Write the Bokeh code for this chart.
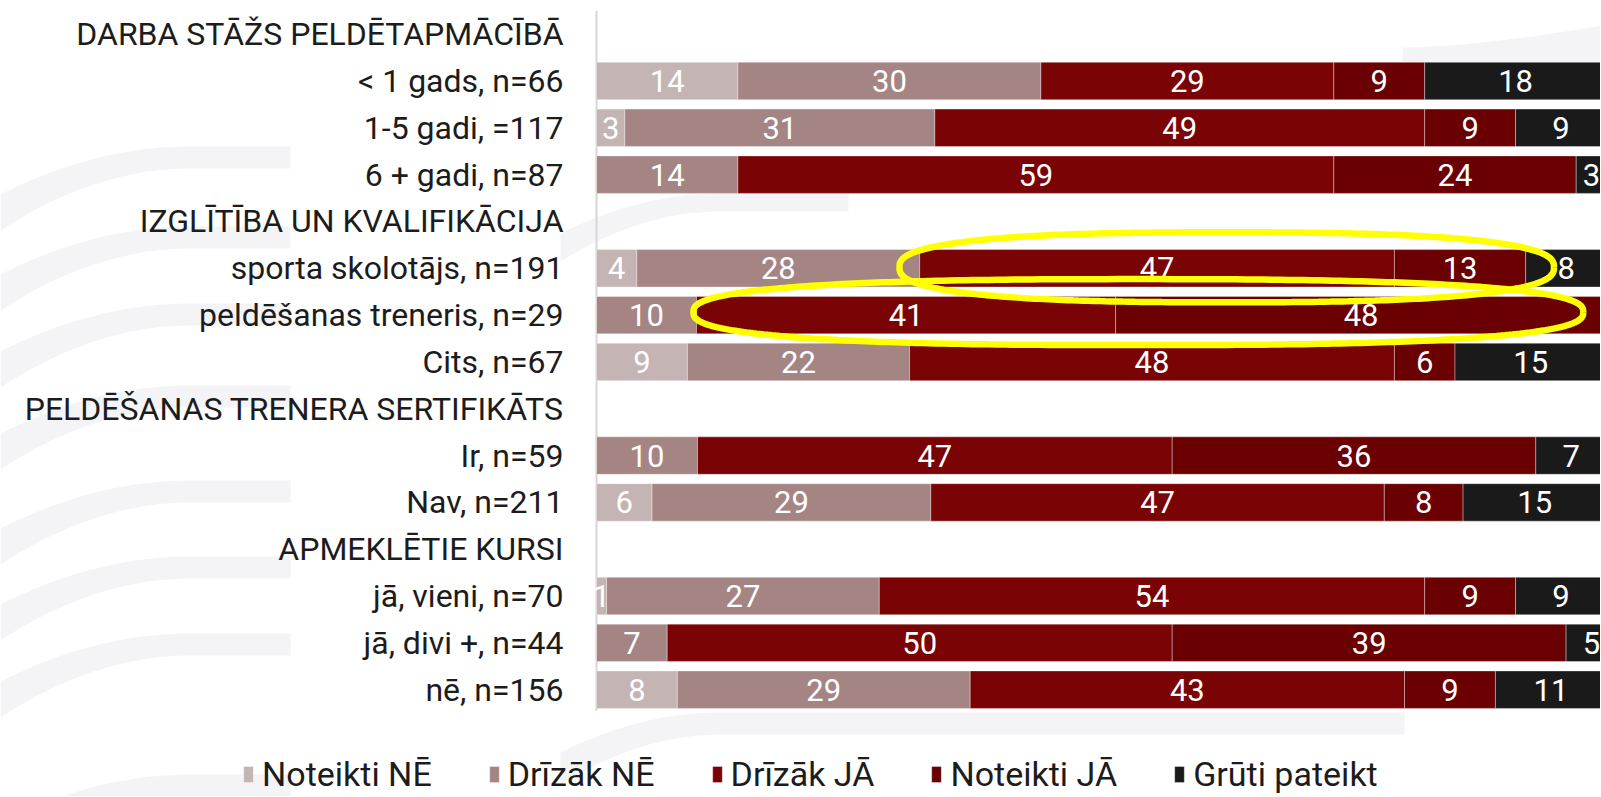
import numpy as np
from bokeh.plotting import figure
from bokeh.models import Range1d, ColumnDataSource, Legend, LegendItem
from bokeh.embed import file_html
from bokeh.resources import INLINE
from bokeh.core.properties import value

# ---------------- data ----------------
row_order = [
    "DARBA STĀŽS PELDĒTAPMĀCĪBĀ",
    "< 1 gads, n=66",
    "1-5 gadi, =117",
    "6 + gadi, n=87",
    "IZGLĪTĪBA UN KVALIFIKĀCIJA",
    "sporta skolotājs, n=191",
    "peldēšanas treneris, n=29",
    "Cits, n=67",
    "PELDĒŠANAS TRENERA SERTIFIKĀTS",
    "Ir, n=59",
    "Nav, n=211",
    "APMEKLĒTIE KURSI",
    "jā, vieni, n=70",
    "jā, divi +, n=44",
    "nē, n=156",
]
bar_rows = [
    "< 1 gads, n=66", "1-5 gadi, =117", "6 + gadi, n=87",
    "sporta skolotājs, n=191", "peldēšanas treneris, n=29", "Cits, n=67",
    "Ir, n=59", "Nav, n=211",
    "jā, vieni, n=70", "jā, divi +, n=44", "nē, n=156",
]
categories = ["Noteikti NĒ", "Drīzāk NĒ", "Drīzāk JĀ", "Noteikti JĀ", "Grūti pateikt"]

# bar lengths (% as drawn)
noteikti_ne   = [14, 2.8, 0, 4, 0, 9, 0, 5.5, 1, 0, 8]
drizak_ne     = [30, 30.7, 14, 28, 9.9, 22, 10, 27.6, 27, 7, 29]
drizak_ja     = [29, 48.5, 59, 47, 41.5, 48, 47, 44.9, 54, 50, 43]
noteikti_ja   = [9, 9, 24, 13, 48.6, 6, 36, 7.8, 9, 39, 9]
gruti_pateikt = [18, 9, 3, 8, 0, 15, 7, 14.2, 9, 5, 11]
series = [noteikti_ne, drizak_ne, drizak_ja, noteikti_ja, gruti_pateikt]

# value labels printed on the bars (0 = no label)
lbl_noteikti_ne   = [14, 3, 0, 4, 0, 9, 0, 6, 1, 0, 8]
lbl_drizak_ne     = [30, 31, 14, 28, 10, 22, 10, 29, 27, 7, 29]
lbl_drizak_ja     = [29, 49, 59, 47, 41, 48, 47, 47, 54, 50, 43]
lbl_noteikti_ja   = [9, 9, 24, 13, 48, 6, 36, 8, 9, 39, 9]
lbl_gruti_pateikt = [18, 9, 3, 8, 0, 15, 7, 15, 9, 5, 11]
labels = [lbl_noteikti_ne, lbl_drizak_ne, lbl_drizak_ja, lbl_noteikti_ja, lbl_gruti_pateikt]

highlight_rows = ["sporta skolotājs, n=191", "peldēšanas treneris, n=29"]

# ---------------- styling ----------------
colors = ["#c4b4b4", "#a58583", "#7a0305", "#6a0002", "#1a1a1a"]
FONT = "Roboto"

X0, PX = 596.0, 10.1      # x pixel of 0 %, pixels per percent
Y0, RS = 33.7, 46.82      # y pixel of first row centre, pixels per row
W, H = 1600, 796

def px2x(px):
    return (px - X0) / PX

def py2y(py):
    return (py - Y0) / RS

p = figure(width=W, height=H, output_backend="svg", toolbar_location=None,
           x_range=Range1d(px2x(0), px2x(W)),
           y_range=Range1d(py2y(H), py2y(0)),
           x_axis_location=None, y_axis_location=None, min_border=0)
p.grid.visible = False
p.outline_line_color = None
p.background_fill_color = "white"

# ---------------- faint background swooshes ----------------
band_col = "#f4f4f6"

def left_band(y_top, x_end=290, xc=190, drop=48, thick=22, extra=14):
    xs = np.linspace(0, x_end, 60)
    t = np.clip(1 - xs / xc, 0, None) ** 2
    up = y_top + drop * t
    lo = up + thick + extra * t
    bx = np.concatenate([xs, xs[::-1]])
    by = np.concatenate([up, lo[::-1]])
    return [px2x(v) for v in bx], [py2y(v) for v in by]

bxs, bys = [], []
for yt in [146, 226, 303, 385, 480, 556, 633, 774]:
    a, b = left_band(yt)
    bxs.append(a); bys.append(b)
for (xa, xb, yt, th) in [(560, 848, 193, 18), (560, 1404, 712, 22)]:
    xs = np.linspace(xa, xb, 50)
    t = np.clip(1 - (xs - xa) / 160, 0, None) ** 2
    up = yt + 40 * t
    lo = up + th + 10 * t
    bxs.append([px2x(v) for v in np.concatenate([xs, xs[::-1]])])
    bys.append([py2y(v) for v in np.concatenate([up, lo[::-1]])])
xs = np.linspace(1402, 1601, 40)
up = 47 - 22 * ((xs - 1402) / 199) ** 1.6
bxs.append([px2x(v) for v in np.concatenate([xs, xs[::-1]])])
bys.append([py2y(v) for v in np.concatenate([up, np.full_like(xs, 62)])])
p.patches(bxs, bys, fill_color=band_col, line_color=None)

# ---------------- axis line ----------------
p.segment(x0=[0], y0=[-0.5], x1=[0], y1=[14.45], line_color="#d6d6d6", line_width=2)

# ---------------- row labels ----------------
p.text(x=[px2x(563)] * len(row_order), y=list(range(len(row_order))), text=row_order,
       text_align="right", text_baseline="middle", text_color="#1c1c1c",
       text_font=value(FONT), text_font_size="32px")

# ---------------- stacked bars ----------------
ypos = [row_order.index(r) for r in bar_rows]
left = np.zeros(len(bar_rows))
legend_items = []
lab_x, lab_y, lab_t = [], [], []
for cat, vals, lbls, col in zip(categories, series, labels, colors):
    vals = np.array(vals, dtype=float)
    src = ColumnDataSource(dict(y=ypos, left=left.copy(), right=left + vals))
    r = p.hbar(y="y", left="left", right="right", height=0.8, source=src,
               fill_color=col, line_color="white", line_alpha=0.35, line_width=1)
    legend_items.append(LegendItem(label=cat, renderers=[r]))
    for yy, l, v, lb in zip(ypos, left, vals, lbls):
        if lb > 0:
            lab_x.append(l + v / 2); lab_y.append(yy); lab_t.append(str(lb))
    left = left + vals

p.text(x=lab_x, y=lab_y, text=lab_t, text_align="center", text_baseline="middle",
       text_color="white", text_font=value(FONT), text_font_size="31px")

# ---------------- highlight ellipses (rounded, drawn as closed lines) ----------------
semi_pad = [2.4, -1.0]          # extra half-width in percent
shift = [0.4, -1.3]             # centre shift in percent
semi_h_px = [35, 33]            # half-height in pixels
dy_px = [-1, -3]
n_exp = 2.6
t = np.linspace(0, 2 * np.pi, 361)
cx_t = np.sign(np.cos(t)) * np.abs(np.cos(t)) ** (2 / n_exp)
sy_t = np.sign(np.sin(t)) * np.abs(np.sin(t)) ** (2 / n_exp)
for rname, sp, sh, hh, dy in zip(highlight_rows, semi_pad, shift, semi_h_px, dy_px):
    i = bar_rows.index(rname)
    start = noteikti_ne[i] + drizak_ne[i]
    end = start + drizak_ja[i] + noteikti_ja[i]
    cx = (start + end) / 2 + sh
    a = (end - start) / 2 + sp
    cy = row_order.index(rname) + dy / RS
    b = hh / RS
    p.line(cx + a * cx_t, cy + b * sy_t, line_color="#ffff00", line_width=6.5)

# ---------------- legend ----------------
legend = Legend(items=legend_items, orientation="horizontal", location=(242, 2),
                glyph_width=12, glyph_height=20, label_standoff=8, spacing=56,
                padding=0, margin=0, border_line_alpha=0, background_fill_alpha=0,
                label_text_font=FONT, label_text_font_size="34px",
                label_text_color="#1c1c1c")
p.add_layout(legend)

open("out.html", "w").write(file_html(p, INLINE))
